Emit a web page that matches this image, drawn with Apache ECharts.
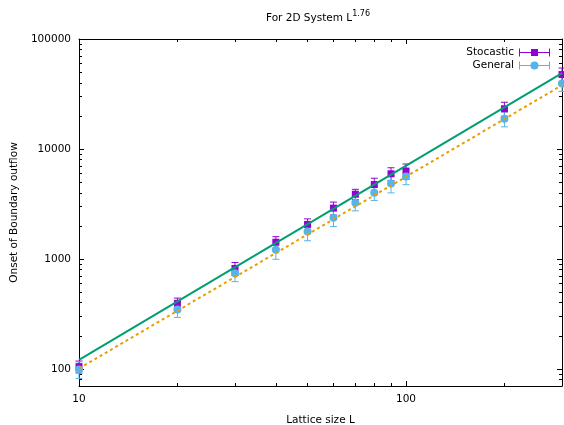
<!DOCTYPE html>
<html>
<head>
<meta charset="utf-8">
<script src="https://cdn.jsdelivr.net/npm/echarts@6/dist/echarts.min.js"></script>
<style>html,body{margin:0;padding:0;background:#fff;}#c{width:564px;height:425px;}</style>
</head>
<body>
<div id="c"></div>
<script>
const xVals = [10, 20, 30, 40, 50, 60, 70, 80, 90, 100, 200, 300];
const stocastic = [105, 395, 820, 1420, 2060, 2900, 3880, 4750, 5950, 6300, 23200, 47500];
const stocasticErr = [13, 46, 110, 175, 255, 390, 420, 670, 800, 1000, 3400, 7000];
const general = [99, 348, 740, 1215, 1780, 2370, 3240, 4000, 4850, 5630, 18800, 39400];
const generalErr = [17, 54, 118, 222, 315, 394, 500, 596, 860, 895, 2900, 6000];
const fitX = [10, 300];
const stocasticFit = [121, 49000];
const generalFit = [101, 38000];
const xTicks = [10, 100];
const yTicks = [100, 1000, 10000, 100000];
const xMinorTicks = [20, 30, 40, 50, 60, 70, 80, 90, 200, 300];
const yMinorTicks = [80, 90, 200, 300, 400, 500, 600, 700, 800, 900, 2000, 3000, 4000, 5000, 6000, 7000, 8000, 9000, 20000, 30000, 40000, 50000, 60000, 70000, 80000, 90000];
const xRange = [10, 300];
const yRange = [70, 100000];

const FONT = 'DejaVu Sans';
const FS = 10.5;
const C_STOC = '#9400d3', C_GEN = '#56b4e9', C_FITS = '#009e73', C_FITG = '#e69f00';

const gridRect = {left: 79, right: 2, top: 39, bottom: 39, outerBoundsMode: 'none', containLabel: false};

function pairs(xs, ys) { return xs.map((x, i) => [x, ys[i]]); }
function errRows(xs, ys, es) { return xs.map((x, i) => [x, ys[i] - es[i], ys[i] + es[i]]); }

function errRender(color) {
  return function (params, api) {
    const x = api.value(0), lo = api.value(1), hi = api.value(2);
    const a = api.coord([x, hi]), b = api.coord([x, lo]);
    const w = 3.5;
    const st = {stroke: color, lineWidth: 1};
    return {type: 'group', children: [
      {type: 'line', shape: {x1: a[0], y1: a[1], x2: b[0], y2: b[1]}, style: st},
      {type: 'line', shape: {x1: a[0] - w, y1: a[1], x2: a[0] + w, y2: a[1]}, style: st},
      {type: 'line', shape: {x1: b[0] - w, y1: b[1], x2: b[0] + w, y2: b[1]}, style: st}
    ]};
  };
}

function mkX(grid, pos, major) {
  return {
    type: 'log', logBase: 10, gridIndex: grid, position: pos,
    min: xRange[0], max: xRange[1],
    name: (major && pos === 'bottom') ? 'Lattice size L' : '',
    nameLocation: 'middle', nameGap: 29,
    nameTextStyle: {fontFamily: FONT, fontSize: FS, color: '#000'},
    axisLine: {show: major, onZero: false, lineStyle: {color: '#000', width: 1}},
    axisTick: {show: true, inside: true, length: major ? 5 : 3, customValues: major ? xTicks : xMinorTicks, lineStyle: {color: '#000', width: 1}},
    axisLabel: {show: major && pos === 'bottom', customValues: major ? xTicks : xMinorTicks, margin: 8, fontFamily: FONT, fontSize: FS, color: '#000', formatter: v => String(Math.round(v))},
    splitLine: {show: false}, minorTick: {show: false}
  };
}
function mkY(grid, pos, major) {
  return {
    type: 'log', logBase: 10, gridIndex: grid, position: pos,
    min: yRange[0], max: yRange[1],
    name: (major && pos === 'left') ? 'Onset of Boundary outflow' : '',
    nameLocation: 'middle', nameGap: 53,
    nameTextStyle: {fontFamily: FONT, fontSize: FS, color: '#000'},
    axisLine: {show: major, onZero: false, lineStyle: {color: '#000', width: 1}},
    axisTick: {show: true, inside: true, length: major ? 5 : 3, customValues: major ? yTicks : yMinorTicks, lineStyle: {color: '#000', width: 1}},
    axisLabel: {show: major && pos === 'left', customValues: major ? yTicks : yMinorTicks, margin: 8, fontFamily: FONT, fontSize: FS, color: '#000', formatter: v => String(Math.round(v))},
    splitLine: {show: false}, minorTick: {show: false}
  };
}

const iconStoc = 'path://M0,0L1,0L1,8L0,8Z M30,0L31,0L31,8L30,8Z M1,3.5L30,3.5L30,4.5L1,4.5Z M12,0.5L19,0.5L19,7.5L12,7.5Z';
const iconGen = 'path://M0,0L1,0L1,8L0,8Z M30,0L31,0L31,8L30,8Z M1,3.5L30,3.5L30,4.5L1,4.5Z M11.5,4A4,4 0 1,1 19.5,4A4,4 0 1,1 11.5,4Z';

const chart = echarts.init(document.getElementById('c'), null, {renderer: 'canvas'});
chart.setOption({
  animation: false,
  backgroundColor: '#fff',
  textStyle: {fontFamily: FONT},
  title: {
    text: '{a|For 2D System L}{b|1.76}',
    left: 266, top: 10, padding: 0,
    textStyle: {
      fontWeight: 'normal',
      rich: {
        a: {fontFamily: FONT, fontSize: FS, fontWeight: 'normal', color: '#000', verticalAlign: 'bottom', lineHeight: 14},
        b: {fontFamily: FONT, fontSize: 8, fontWeight: 'normal', color: '#000', verticalAlign: 'top', lineHeight: 14}
      }
    }
  },
  legend: {
    orient: 'vertical', right: 9, top: 41, align: 'right',
    itemWidth: 31, itemHeight: 8, itemGap: 0,
    textStyle: {fontFamily: FONT, fontSize: FS, color: '#000', lineHeight: 13},
    itemStyle: {borderWidth: 0, opacity: 1},
    data: [{name: 'Stocastic', icon: iconStoc}, {name: 'General', icon: iconGen}]
  },
  grid: [Object.assign({}, gridRect), Object.assign({}, gridRect)],
  xAxis: [mkX(0, 'bottom', true), mkX(0, 'top', true), mkX(1, 'bottom', false), mkX(1, 'top', false)],
  yAxis: [mkY(0, 'left', true), mkY(0, 'right', true), mkY(1, 'left', false), mkY(1, 'right', false)],
  series: [
    {name: 'StocasticErr', type: 'custom', xAxisIndex: 0, yAxisIndex: 0, clip: false, z: 2,
     renderItem: errRender(C_STOC), data: errRows(xVals, stocastic, stocasticErr), silent: true},
    {name: 'GeneralErr', type: 'custom', xAxisIndex: 0, yAxisIndex: 0, clip: false, z: 2,
     renderItem: errRender(C_GEN), data: errRows(xVals, general, generalErr), silent: true},
    {name: 'Stocastic', type: 'scatter', xAxisIndex: 0, yAxisIndex: 0, clip: false, z: 3,
     symbol: 'rect', symbolSize: 7, itemStyle: {color: C_STOC, opacity: 1}, data: pairs(xVals, stocastic)},
    {name: 'General', type: 'scatter', xAxisIndex: 0, yAxisIndex: 0, clip: false, z: 3,
     symbol: 'circle', symbolSize: 8, itemStyle: {color: C_GEN, opacity: 1}, data: pairs(xVals, general)},
    {name: 'StocasticFit', type: 'line', xAxisIndex: 0, yAxisIndex: 0, z: 4, showSymbol: false, symbol: 'none',
     lineStyle: {color: C_FITS, width: 2}, data: pairs(fitX, stocasticFit)},
    {name: 'GeneralFit', type: 'line', xAxisIndex: 0, yAxisIndex: 0, z: 4, showSymbol: false, symbol: 'none',
     lineStyle: {color: C_FITG, width: 2, type: [3, 3]}, data: pairs(fitX, generalFit)}
  ]
});
</script>
</body>
</html>
